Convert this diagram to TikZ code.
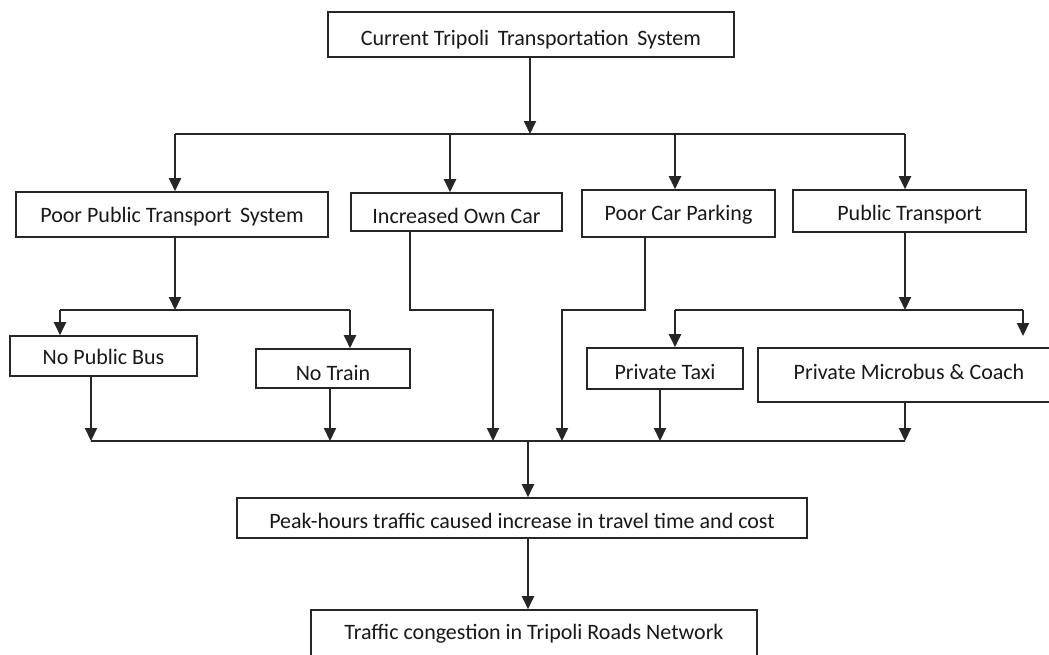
\documentclass[tikz,border=0pt]{standalone}
\usepackage{fontspec}
\setmainfont{Carlito}
\usetikzlibrary{arrows.meta}
\begin{document}
\begin{tikzpicture}[x=1pt,y=-1pt,
 box/.style={draw=black!85, line width=1.6pt, fill=white, inner sep=0pt, font=\fontsize{22}{26}\selectfont, text=black!90, text height=1.3em, text depth=0.2em},
 ln/.style={draw=black!85, line width=2pt},
 arr/.style={ln, -{Triangle[width=12pt,length=13pt]}}]
\useasboundingbox (0,0) rectangle (1049,654);
\clip (0,0) rectangle (1049,654);
% boxes
\node[box, minimum width=406pt, minimum height=45pt] (cur) at (531,34.5) {\raisebox{-5pt}{Current Tripoli\, Transportation\, System}};
\node[box, minimum width=312pt, minimum height=45pt] (ppts) at (172,214.5) {\raisebox{-2pt}{Poor Public Transport\, System}};
\node[box, minimum width=211pt, minimum height=38pt] (ioc) at (456.5,212) {\raisebox{-6pt}{Increased Own Car}};
\node[box, minimum width=193pt, minimum height=47pt] (pcp) at (678.5,213.5) {\raisebox{-1pt}{Poor Car Parking}};
\node[box, minimum width=233pt, minimum height=42pt] (pt) at (909.5,211) {\raisebox{-4pt}{Public Transport}};
\node[box, minimum width=187pt, minimum height=40pt] (npb) at (103.5,356) {\raisebox{-3pt}{No Public Bus}};
\node[box, minimum width=154pt, minimum height=39pt] (nt) at (333,368.5) {\raisebox{-6pt}{No Train}};
\node[box, minimum width=156pt, minimum height=41pt] (ptx) at (665,368.5) {\raisebox{-5pt}{Private Taxi}};
\node[box, minimum width=302pt, minimum height=54pt] (pmc) at (909,375) {\raisebox{1pt}{Private Microbus \& Coach}};
\node[box, minimum width=570pt, minimum height=40pt] (peak) at (522,518) {\raisebox{-5pt}{Peak-hours traffic caused increase in travel time and cost}};
\node[box, minimum width=446pt, minimum height=48pt] (tc) at (534,634) {\raisebox{0pt}{Traffic congestion in Tripoli Roads Network}};
% junction coordinates
\coordinate (j0) at (530,134);
\coordinate (jl) at (175,134);
\coordinate (jr) at (905,134);
\coordinate (j2) at (450,134);
\coordinate (j3) at (675,134);
\coordinate (a0) at (175,310);
\coordinate (al) at (60,310);
\coordinate (ar) at (350,310);
\coordinate (b0) at (905,310);
\coordinate (bl) at (675,310);
\coordinate (br) at (1023,310);
\coordinate (bend) at (1023,336);
\coordinate (m1) at (91,441);
\coordinate (m2) at (330,441);
\coordinate (m3) at (493,441);
\coordinate (m4) at (562,441);
\coordinate (m5) at (660,441);
\coordinate (m6) at (905,441);
\coordinate (mc) at (528,441);
% top level
\draw[arr] (cur.south -| j0) -- (j0);
\draw[ln] (jl) -- (jr);
\draw[arr] (jl) -- (jl |- ppts.north);
\draw[arr] (j2) -- (j2 |- ioc.north);
\draw[arr] (j3) -- (j3 |- pcp.north);
\draw[arr] (jr) -- (jr |- pt.north);
% poor public transport branch
\draw[arr] (a0 |- ppts.south) -- (a0);
\draw[ln] (al) -- (ar);
\draw[arr] (al) -- (al |- npb.north);
\draw[arr] (ar) -- (ar |- nt.north);
% public transport branch
\draw[arr] (b0 |- pt.south) -- (b0);
\draw[ln] (bl) -- (br);
\draw[arr] (bl) -- (bl |- ptx.north);
\draw[arr] (br) -- (bend);
% to bottom bus
\draw[arr] (m1 |- npb.south) -- (m1);
\draw[arr] (m2 |- nt.south) -- (m2);
\draw[arr] ([xshift=-46.5pt]ioc.south) |- (m3 |- a0) -- (m3);
\draw[arr] ([xshift=-33.5pt]pcp.south) |- (m4 |- a0) -- (m4);
\draw[arr] (m5 |- ptx.south) -- (m5);
\draw[arr] (m6 |- pmc.south) -- (m6);
\draw[ln] (m1) -- (m6);
% bottom chain
\draw[arr] (mc) -- (mc |- peak.north);
\draw[arr] (mc |- peak.south) -- (mc |- tc.north);
\end{tikzpicture}
\end{document}
